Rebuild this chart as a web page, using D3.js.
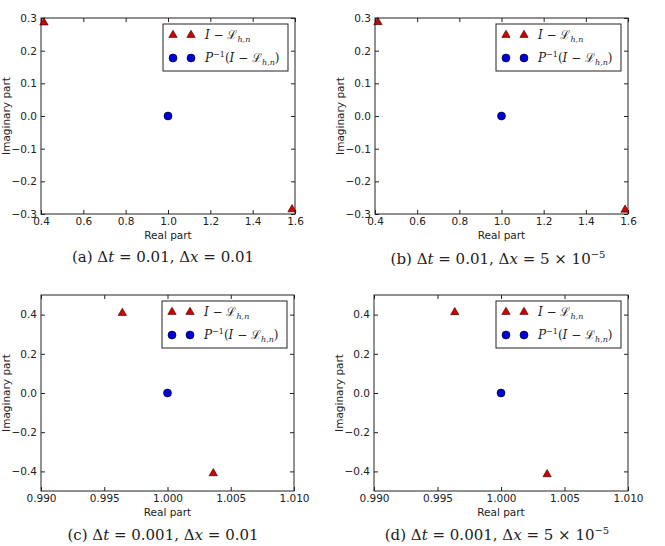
<!DOCTYPE html>
<html>
<head>
<meta charset="utf-8">
<script src="https://cdn.jsdelivr.net/npm/d3@7"></script>
<style>
    body { margin: 0; background: white; }
    .tick text { font-family: "DejaVu Sans", sans-serif; font-size: 10.5px; fill: #222; }
    .axisLabel { font-family: "DejaVu Sans", sans-serif; font-size: 10.5px; fill: #222; }
    .caption { font-family: "DejaVu Serif", serif; font-size: 15px; fill: #222; }
    .legTxt { font-family: "DejaVu Serif", serif; font-size: 12px; fill: #222; }
</style>
</head>
<body>
<svg id="chart" width="665" height="546"></svg>
<script>
// eigenvalues (real, imaginary)
const realA = [0.414, 1.586], imagA = [0.286, -0.286];
const realB = [0.414, 1.586], imagB = [0.287, -0.287];
const realC = [0.99643, 1.00362], imagC = [0.408, -0.410];
const realD = [0.99636, 1.00363], imagD = [0.412, -0.415];
// preconditioned operator: all eigenvalues collapse to 1
const precReal = [1.0], precImag = [0.0];

const xTicksWide = [0.4, 0.6, 0.8, 1.0, 1.2, 1.4, 1.6];
const yTicksWide = [-0.3, -0.2, -0.1, 0.0, 0.1, 0.2, 0.3];
const xTicksNarrow = [0.990, 0.995, 1.000, 1.005, 1.010];
const yTicksNarrow = [-0.4, -0.2, 0.0, 0.2, 0.4];

const captions = [
    ["(a) ", "Δ", "t", " = 0.01, ", "Δ", "x", " = 0.01"],
    ["(b) ", "Δ", "t", " = 0.01, ", "Δ", "x", " = 5 × 10", "−5"],
    ["(c) ", "Δ", "t", " = 0.001, ", "Δ", "x", " = 0.01"],
    ["(d) ", "Δ", "t", " = 0.001, ", "Δ", "x", " = 5 × 10", "−5"]
];

const svgSpace = d3.select("#chart");

const panels = [
    {re: realA, im: imagA, x0: 41, x1: 295, y0: 18, y1: 214, xd: [0.4, 1.6], yd: [-0.3, 0.3], xt: xTicksWide, yt: yTicksWide, xf: ".1f", cap: captions[0], capX: 163, capY: 262},
    {re: realB, im: imagB, x0: 375, x1: 628, y0: 18, y1: 214, xd: [0.4, 1.6], yd: [-0.3, 0.3], xt: xTicksWide, yt: yTicksWide, xf: ".1f", cap: captions[1], capX: 498, capY: 264},
    {re: realC, im: imagC, x0: 41, x1: 294, y0: 295, y1: 491, xd: [0.99, 1.01], yd: [-0.5, 0.5], xt: xTicksNarrow, yt: yTicksNarrow, xf: ".3f", cap: captions[2], capX: 163, capY: 540},
    {re: realD, im: imagD, x0: 374, x1: 628, y0: 295, y1: 491, xd: [0.99, 1.01], yd: [-0.5, 0.5], xt: xTicksNarrow, yt: yTicksNarrow, xf: ".3f", cap: captions[3], capX: 497, capY: 540}
];

panels.forEach(p => drawPanel(p));

function drawPanel(p) {
    const x = d3.scaleLinear().domain(p.xd).range([p.x0, p.x1]);
    const y = d3.scaleLinear().domain(p.yd).range([p.y1, p.y0]);
    const g = svgSpace.append("g");

    // ticks point inwards on all four sides
    g.append("g")
        .attr("transform", `translate(0,${p.y1})`)
        .call(d3.axisBottom(x).tickValues(p.xt).tickFormat(d3.format(p.xf)).tickSize(-4).tickPadding(4))
        .call(a => a.select(".domain").remove());
    g.append("g")
        .attr("transform", `translate(0,${p.y0})`)
        .call(d3.axisTop(x).tickValues(p.xt).tickFormat("").tickSize(-4))
        .call(a => a.select(".domain").remove());
    g.append("g")
        .attr("transform", `translate(${p.x0},0)`)
        .call(d3.axisLeft(y).tickValues(p.yt).tickFormat(d3.format(".1f")).tickSize(-4).tickPadding(4))
        .call(a => a.select(".domain").remove());
    g.append("g")
        .attr("transform", `translate(${p.x1},0)`)
        .call(d3.axisRight(y).tickValues(p.yt).tickFormat("").tickSize(-4))
        .call(a => a.select(".domain").remove());
    g.selectAll(".tick line").attr("stroke", "#222");

    g.append("rect")
        .attr("x", p.x0).attr("y", p.y0)
        .attr("width", p.x1 - p.x0).attr("height", p.y1 - p.y0)
        .attr("fill", "none").attr("stroke", "#222").attr("stroke-width", 1);

    g.append("text")
        .attr("class", "axisLabel")
        .attr("x", (p.x0 + p.x1) / 2).attr("y", p.y1 + 25)
        .attr("text-anchor", "middle")
        .text("Real part");
    g.append("text")
        .attr("class", "axisLabel")
        .attr("transform", `translate(${p.x0 - 31},${(p.y0 + p.y1) / 2}) rotate(-90)`)
        .attr("text-anchor", "middle")
        .text("Imaginary part");

    const tri = d3.symbol().type(d3.symbolTriangle).size(30);
    g.selectAll(".eig")
        .data(p.re.map((r, i) => [r, p.im[i]]))
        .enter()
        .append("path")
        .attr("d", tri)
        .attr("transform", d => `translate(${x(d[0])},${y(d[1])})`)
        .attr("fill", "#d40000")
        .attr("stroke", "#200").attr("stroke-width", 0.6);

    g.selectAll(".prec")
        .data(precReal.map((r, i) => [r, precImag[i]]))
        .enter()
        .append("circle")
        .attr("cx", d => x(d[0])).attr("cy", d => y(d[1]))
        .attr("r", 4)
        .attr("fill", "#0000dd")
        .attr("stroke", "#000").attr("stroke-width", 0.6);

    drawLegend(g, p.x1 - 132, p.y0 + 6);

    const cap = g.append("text")
        .attr("class", "caption")
        .attr("x", p.capX).attr("y", p.capY)
        .attr("text-anchor", "middle");
    p.cap.forEach((s, i) => {
        const t = cap.append("tspan").text(s);
        if (s === "t" || s === "x") t.style("font-style", "italic");
        if (i === 7) t.attr("dy", -6).style("font-size", "10px");
    });
}

function drawLegend(g, lx, ly) {
    g.append("rect")
        .attr("x", lx).attr("y", ly)
        .attr("width", 125).attr("height", 47)
        .attr("fill", "white").attr("stroke", "#222").attr("stroke-width", 1);

    const tri = d3.symbol().type(d3.symbolTriangle).size(30);
    [10, 28].forEach(dx => {
        g.append("path")
            .attr("d", tri)
            .attr("transform", `translate(${lx + dx},${ly + 11})`)
            .attr("fill", "#d40000")
            .attr("stroke", "#200").attr("stroke-width", 0.6);
        g.append("circle")
            .attr("cx", lx + dx).attr("cy", ly + 34)
            .attr("r", 4)
            .attr("fill", "#0000dd")
            .attr("stroke", "#000").attr("stroke-width", 0.6);
    });

    const t1 = g.append("text").attr("class", "legTxt").attr("x", lx + 42).attr("y", ly + 15);
    t1.append("tspan").text("I").style("font-style", "italic");
    t1.append("tspan").text(" − ℒ");
    t1.append("tspan").text("h,n").attr("dy", 3).style("font-size", "8px").style("font-style", "italic");

    const t2 = g.append("text").attr("class", "legTxt").attr("x", lx + 42).attr("y", ly + 38);
    t2.append("tspan").text("P").style("font-style", "italic");
    t2.append("tspan").text("−1").attr("dy", -5).style("font-size", "8px");
    t2.append("tspan").text("(").attr("dy", 5);
    t2.append("tspan").text("I").style("font-style", "italic");
    t2.append("tspan").text(" − ℒ");
    t2.append("tspan").text("h,n").attr("dy", 3).style("font-size", "8px").style("font-style", "italic");
    t2.append("tspan").text(")").attr("dy", -3);
}
</script>
</body>
</html>
